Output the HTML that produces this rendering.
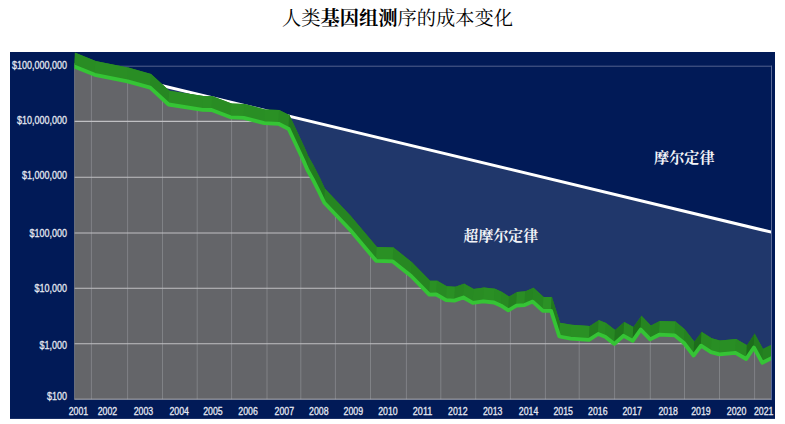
<!DOCTYPE html>
<html lang="zh"><head><meta charset="utf-8"><title>chart</title>
<style>html,body{margin:0;padding:0;background:#fff;font-family:"Liberation Sans",sans-serif}svg{display:block}</style>
</head><body>
<svg width="785" height="424" viewBox="0 0 785 424">
<defs><clipPath id="g"><polygon points="74.3,66.5 94.8,74.8 127.5,81.4 150.2,87.7 168.6,104.5 202.7,109.8 211.6,110.0 230.6,117.3 243.8,117.9 264.2,123.2 278.5,123.8 288.7,129.0 303.2,160.0 307.6,170.2 312.7,179.1 319.1,191.8 324.3,202.7 350.0,229.8 376.1,260.8 392.8,261.4 411.1,276.0 429.3,294.6 436.3,294.5 446.1,300.1 454.3,300.6 463.4,297.5 472.8,302.8 483.2,301.4 494.0,302.5 501.1,305.7 508.3,310.4 516.4,305.7 524.6,305.1 532.7,301.6 542.9,310.8 551.1,310.8 559.3,336.5 570.6,338.6 589.0,339.8 598.1,334.0 605.2,336.8 614.4,343.9 623.6,335.8 632.7,340.9 640.7,329.6 650.1,339.4 659.2,334.7 674.7,335.4 684.0,343.0 693.6,355.6 701.0,345.7 711.0,352.1 719.4,354.4 735.5,352.9 746.2,359.0 753.9,347.5 762.3,362.8 772.0,358.0 772.0,399.5 74.3,399.5"/></clipPath>
<clipPath id="p"><rect x="74.3" y="52.0" width="696.7" height="347.5"/></clipPath></defs>
<rect width="785" height="424" fill="#fff"/>
<rect x="10" y="52" width="765" height="366.9" fill="#011a57"/>
<line x1="74.3" y1="66.2" x2="772.0" y2="66.2" stroke="#53628f" stroke-width="1"/>
<polygon points="74.3,64.5 772.0,232.3 772.0,399.5 74.3,399.5" fill="#20376b"/>
<polygon points="74.3,66.5 94.8,74.8 127.5,81.4 150.2,87.7 168.6,104.5 202.7,109.8 211.6,110.0 230.6,117.3 243.8,117.9 264.2,123.2 278.5,123.8 288.7,129.0 303.2,160.0 307.6,170.2 312.7,179.1 319.1,191.8 324.3,202.7 350.0,229.8 376.1,260.8 392.8,261.4 411.1,276.0 429.3,294.6 436.3,294.5 446.1,300.1 454.3,300.6 463.4,297.5 472.8,302.8 483.2,301.4 494.0,302.5 501.1,305.7 508.3,310.4 516.4,305.7 524.6,305.1 532.7,301.6 542.9,310.8 551.1,310.8 559.3,336.5 570.6,338.6 589.0,339.8 598.1,334.0 605.2,336.8 614.4,343.9 623.6,335.8 632.7,340.9 640.7,329.6 650.1,339.4 659.2,334.7 674.7,335.4 684.0,343.0 693.6,355.6 701.0,345.7 711.0,352.1 719.4,354.4 735.5,352.9 746.2,359.0 753.9,347.5 762.3,362.8 772.0,358.0 772.0,399.5 74.3,399.5" fill="#646569"/>
<g clip-path="url(#g)">
<line x1="91.4" y1="66.2" x2="91.4" y2="399.5" stroke="#94959a" stroke-width="0.6"/>
<line x1="127.6" y1="66.2" x2="127.6" y2="399.5" stroke="#94959a" stroke-width="0.6"/>
<line x1="162.5" y1="66.2" x2="162.5" y2="399.5" stroke="#94959a" stroke-width="0.6"/>
<line x1="197.2" y1="66.2" x2="197.2" y2="399.5" stroke="#94959a" stroke-width="0.6"/>
<line x1="231.6" y1="66.2" x2="231.6" y2="399.5" stroke="#94959a" stroke-width="0.6"/>
<line x1="267.0" y1="66.2" x2="267.0" y2="399.5" stroke="#94959a" stroke-width="0.6"/>
<line x1="300.8" y1="66.2" x2="300.8" y2="399.5" stroke="#94959a" stroke-width="0.6"/>
<line x1="335.4" y1="66.2" x2="335.4" y2="399.5" stroke="#94959a" stroke-width="0.6"/>
<line x1="370.5" y1="66.2" x2="370.5" y2="399.5" stroke="#94959a" stroke-width="0.6"/>
<line x1="406.4" y1="66.2" x2="406.4" y2="399.5" stroke="#94959a" stroke-width="0.6"/>
<line x1="440.8" y1="66.2" x2="440.8" y2="399.5" stroke="#94959a" stroke-width="0.6"/>
<line x1="475.7" y1="66.2" x2="475.7" y2="399.5" stroke="#94959a" stroke-width="0.6"/>
<line x1="510.4" y1="66.2" x2="510.4" y2="399.5" stroke="#94959a" stroke-width="0.6"/>
<line x1="545.4" y1="66.2" x2="545.4" y2="399.5" stroke="#94959a" stroke-width="0.6"/>
<line x1="579.2" y1="66.2" x2="579.2" y2="399.5" stroke="#94959a" stroke-width="0.6"/>
<line x1="614.6" y1="66.2" x2="614.6" y2="399.5" stroke="#94959a" stroke-width="0.6"/>
<line x1="650.3" y1="66.2" x2="650.3" y2="399.5" stroke="#94959a" stroke-width="0.6"/>
<line x1="684.5" y1="66.2" x2="684.5" y2="399.5" stroke="#94959a" stroke-width="0.6"/>
<line x1="719.5" y1="66.2" x2="719.5" y2="399.5" stroke="#94959a" stroke-width="0.6"/>
<line x1="754.6" y1="66.2" x2="754.6" y2="399.5" stroke="#94959a" stroke-width="0.6"/>
<line x1="74.3" y1="66.2" x2="772.0" y2="66.2" stroke="#c0c0c3" stroke-width="1.1"/>
<line x1="74.3" y1="121.4" x2="772.0" y2="121.4" stroke="#c0c0c3" stroke-width="1.1"/>
<line x1="74.3" y1="177.2" x2="772.0" y2="177.2" stroke="#c0c0c3" stroke-width="1.1"/>
<line x1="74.3" y1="233.0" x2="772.0" y2="233.0" stroke="#c0c0c3" stroke-width="1.1"/>
<line x1="74.3" y1="288.3" x2="772.0" y2="288.3" stroke="#c0c0c3" stroke-width="1.1"/>
<line x1="74.3" y1="343.8" x2="772.0" y2="343.8" stroke="#c0c0c3" stroke-width="1.1"/>
<line x1="74.3" y1="399.4" x2="772.0" y2="399.4" stroke="#c0c0c3" stroke-width="1.1"/>
</g>
<line x1="74.3" y1="64.5" x2="772.0" y2="232.3" stroke="#fff" stroke-width="3.0" clip-path="url(#p)"/>
<g clip-path="url(#p)">
<polygon points="74.3,66.5 94.8,74.8 127.5,81.4 150.2,87.7 168.6,104.5 202.7,109.8 211.6,110.0 230.6,117.3 243.8,117.9 264.2,123.2 278.5,123.8 288.7,129.0 303.2,160.0 307.6,170.2 312.7,179.1 319.1,191.8 324.3,202.7 350.0,229.8 376.1,260.8 392.8,261.4 411.1,276.0 429.3,294.6 436.3,294.5 446.1,300.1 454.3,300.6 463.4,297.5 472.8,302.8 483.2,301.4 494.0,302.5 501.1,305.7 508.3,310.4 516.4,305.7 524.6,305.1 532.7,301.6 542.9,310.8 551.1,310.8 559.3,336.5 570.6,338.6 589.0,339.8 598.1,334.0 605.2,336.8 614.4,343.9 623.6,335.8 632.7,340.9 640.7,329.6 650.1,339.4 659.2,334.7 674.7,335.4 684.0,343.0 693.6,355.6 701.0,345.7 711.0,352.1 719.4,354.4 735.5,352.9 746.2,359.0 753.9,347.5 762.3,362.8 772.0,358.0 772.8,344.2 763.1,349.0 754.7,333.7 747.0,345.2 736.3,339.1 720.2,340.6 711.8,338.3 701.8,331.9 694.4,341.8 684.8,329.2 675.5,321.6 660.0,320.9 650.9,325.6 641.5,315.8 633.5,327.1 624.4,322.0 615.2,330.1 606.0,323.0 598.9,320.2 589.8,326.0 571.4,324.8 560.1,322.7 551.9,297.0 543.7,297.0 533.5,287.8 525.4,291.3 517.2,291.9 509.1,296.6 501.9,291.9 494.8,288.7 484.0,287.6 473.6,289.0 464.2,283.7 455.1,286.8 446.9,286.3 437.1,280.7 430.1,280.8 411.9,262.2 393.6,247.6 376.9,247.0 350.8,216.0 325.1,188.9 319.9,178.0 313.5,165.3 308.4,156.4 304.0,146.2 289.5,115.2 279.3,110.0 265.0,109.4 244.6,104.1 231.4,103.5 212.4,96.2 203.5,96.0 169.4,90.7 151.0,73.9 128.3,67.6 95.6,61.0 75.1,52.7" fill="#288a22"/>
<polygon points="74.0,66.4 95.0,74.9 95.8,61.1 74.8,52.6" fill="#298c23"/>
<polygon points="94.5,74.7 127.8,81.5 128.6,67.7 95.3,60.9" fill="#2a8e24"/>
<polygon points="127.2,81.3 150.4,87.8 151.2,74.0 128.1,67.5" fill="#298d24"/>
<polygon points="149.9,87.5 168.8,104.7 169.7,90.9 150.8,73.7" fill="#268722"/>
<polygon points="168.3,104.5 202.9,109.8 203.8,96.0 169.2,90.7" fill="#2a8f24"/>
<polygon points="202.4,109.8 211.8,110.0 212.7,96.2 203.2,96.0" fill="#2a9024"/>
<polygon points="211.3,109.9 230.8,117.4 231.7,103.6 212.2,96.1" fill="#298c23"/>
<polygon points="230.3,117.3 244.1,117.9 244.9,104.1 231.2,103.5" fill="#2a9024"/>
<polygon points="243.6,117.8 264.4,123.3 265.2,109.5 244.4,104.0" fill="#298e24"/>
<polygon points="263.9,123.2 278.8,123.8 279.6,110.0 264.8,109.4" fill="#2a9024"/>
<polygon points="278.2,123.7 288.9,129.1 289.8,115.3 279.1,109.9" fill="#288b23"/>
<polygon points="288.4,128.5 303.4,160.5 304.2,146.7 289.2,114.7" fill="#21791e"/>
<polygon points="302.9,159.4 307.9,170.8 308.7,157.0 303.8,145.6" fill="#21791e"/>
<polygon points="307.4,169.8 312.9,179.5 313.8,165.7 308.2,156.0" fill="#237d1f"/>
<polygon points="312.4,178.6 319.4,192.3 320.2,178.5 313.2,164.8" fill="#217b1e"/>
<polygon points="318.9,191.3 324.6,203.2 325.4,189.4 319.7,177.5" fill="#217a1e"/>
<polygon points="324.1,202.4 350.2,230.1 351.1,216.3 324.9,188.6" fill="#268521"/>
<polygon points="349.8,229.5 376.4,261.1 377.2,247.3 350.6,215.7" fill="#258421"/>
<polygon points="375.9,260.8 393.1,261.4 393.9,247.6 376.7,247.0" fill="#2a9024"/>
<polygon points="392.6,261.2 411.4,276.2 412.2,262.4 393.4,247.4" fill="#278822"/>
<polygon points="410.9,275.7 429.6,294.9 430.4,281.1 411.7,261.9" fill="#268521"/>
<polygon points="429.1,294.6 436.6,294.5 437.4,280.7 429.9,280.8" fill="#2a9024"/>
<polygon points="436.1,294.4 446.4,300.2 447.2,286.4 436.9,280.6" fill="#288a23"/>
<polygon points="445.9,300.1 454.6,300.6 455.4,286.8 446.7,286.3" fill="#2a9024"/>
<polygon points="454.1,300.7 463.6,297.4 464.4,283.6 454.9,286.9" fill="#278622"/>
<polygon points="463.1,297.4 473.1,302.9 473.9,289.1 463.9,283.6" fill="#288a23"/>
<polygon points="472.6,302.8 483.4,301.4 484.2,287.6 473.4,289.0" fill="#298c23"/>
<polygon points="482.9,301.4 494.2,302.5 495.1,288.7 483.8,287.6" fill="#2a8f24"/>
<polygon points="493.8,302.4 501.4,305.8 502.2,292.0 494.6,288.6" fill="#288c23"/>
<polygon points="500.9,305.5 508.6,310.6 509.4,296.8 501.7,291.7" fill="#288922"/>
<polygon points="508.1,310.5 516.6,305.6 517.4,291.8 508.9,296.7" fill="#247f20"/>
<polygon points="516.1,305.7 524.9,305.1 525.6,291.3 516.9,291.9" fill="#2a8e24"/>
<polygon points="524.4,305.2 533.0,301.5 533.8,287.7 525.1,291.4" fill="#258421"/>
<polygon points="532.5,301.4 543.1,311.0 543.9,297.2 533.2,287.6" fill="#268722"/>
<polygon points="542.6,310.8 551.4,310.8 552.1,297.0 543.4,297.0" fill="#2b9125"/>
<polygon points="550.9,310.0 559.5,337.3 560.3,323.5 551.6,296.2" fill="#21791e"/>
<polygon points="559.0,336.5 570.9,338.6 571.6,324.8 559.8,322.7" fill="#2a8e24"/>
<polygon points="570.4,338.6 589.2,339.8 590.0,326.0 571.1,324.8" fill="#2a9024"/>
<polygon points="588.8,340.0 598.4,333.8 599.1,320.0 589.5,326.2" fill="#237d1f"/>
<polygon points="597.9,333.9 605.5,336.9 606.2,323.1 598.6,320.1" fill="#298c23"/>
<polygon points="605.0,336.6 614.6,344.1 615.4,330.3 605.8,322.8" fill="#278822"/>
<polygon points="614.1,344.1 623.9,335.6 624.6,321.8 614.9,330.3" fill="#20761d"/>
<polygon points="623.4,335.7 633.0,341.0 633.8,327.2 624.1,321.9" fill="#288a23"/>
<polygon points="632.5,341.3 641.0,329.2 641.8,315.4 633.2,327.5" fill="#1d6d1b"/>
<polygon points="640.5,329.3 650.4,339.7 651.1,325.9 641.2,315.5" fill="#268521"/>
<polygon points="649.9,339.5 659.5,334.6 660.2,320.8 650.6,325.7" fill="#248120"/>
<polygon points="659.0,334.7 675.0,335.4 675.8,321.6 659.8,320.9" fill="#2a9024"/>
<polygon points="674.5,335.2 684.2,343.2 685.0,329.4 675.2,321.4" fill="#278822"/>
<polygon points="683.8,342.7 693.9,355.9 694.6,342.1 684.5,328.9" fill="#258220"/>
<polygon points="693.4,355.9 701.2,345.4 702.0,331.6 694.1,342.1" fill="#1d6d1b"/>
<polygon points="700.8,345.5 711.2,352.3 712.0,338.5 701.5,331.7" fill="#288a22"/>
<polygon points="710.8,352.0 719.6,354.5 720.4,340.7 711.5,338.2" fill="#298e24"/>
<polygon points="719.1,354.4 735.8,352.9 736.5,339.1 719.9,340.6" fill="#298e24"/>
<polygon points="735.2,352.8 746.5,359.1 747.2,345.3 736.0,339.0" fill="#288a23"/>
<polygon points="746.0,359.4 754.1,347.1 754.9,333.3 746.8,345.6" fill="#1d6d1b"/>
<polygon points="753.6,347.0 762.5,363.3 763.3,349.5 754.4,333.2" fill="#227d1f"/>
<polygon points="762.0,362.9 772.2,357.9 773.0,344.1 762.8,349.1" fill="#258220"/>
<polyline points="74.3,66.5 94.8,74.8 127.5,81.4 150.2,87.7 168.6,104.5 202.7,109.8 211.6,110.0 230.6,117.3 243.8,117.9 264.2,123.2 278.5,123.8 288.7,129.0 303.2,160.0 307.6,170.2 312.7,179.1 319.1,191.8 324.3,202.7 350.0,229.8 376.1,260.8 392.8,261.4 411.1,276.0 429.3,294.6 436.3,294.5 446.1,300.1 454.3,300.6 463.4,297.5 472.8,302.8 483.2,301.4 494.0,302.5 501.1,305.7 508.3,310.4 516.4,305.7 524.6,305.1 532.7,301.6 542.9,310.8 551.1,310.8 559.3,336.5 570.6,338.6 589.0,339.8 598.1,334.0 605.2,336.8 614.4,343.9 623.6,335.8 632.7,340.9 640.7,329.6 650.1,339.4 659.2,334.7 674.7,335.4 684.0,343.0 693.6,355.6 701.0,345.7 711.0,352.1 719.4,354.4 735.5,352.9 746.2,359.0 753.9,347.5 762.3,362.8 772.0,358.0" fill="none" stroke="#35c435" stroke-width="3.8" stroke-linejoin="round"/>
</g>
<rect x="771.0" y="66.2" width="1.4" height="333.9" fill="#011a57"/>
<line x1="771.5" y1="65.7" x2="771.5" y2="400.1" stroke="#5b6a98" stroke-width="1"/>
<line x1="74.6" y1="68.5" x2="74.6" y2="399.5" stroke="#8e8f96" stroke-width="0.8" stroke-opacity="0.6"/>
<g font-family="'Liberation Sans', sans-serif" fill="#e6e9f2" stroke="#e6e9f2" stroke-width="0.28">
<text x="12.1" y="69.10" font-size="10.8" textLength="55.0" lengthAdjust="spacingAndGlyphs">$100,000,000</text>
<text x="17.1" y="123.75" font-size="10.8" textLength="50.0" lengthAdjust="spacingAndGlyphs">$10,000,000</text>
<text x="22.1" y="179.30" font-size="10.8" textLength="45.0" lengthAdjust="spacingAndGlyphs">$1,000,000</text>
<text x="29.6" y="236.85" font-size="10.8" textLength="37.5" lengthAdjust="spacingAndGlyphs">$100,000</text>
<text x="34.6" y="291.60" font-size="10.8" textLength="32.5" lengthAdjust="spacingAndGlyphs">$10,000</text>
<text x="39.6" y="348.50" font-size="10.8" textLength="27.5" lengthAdjust="spacingAndGlyphs">$1,000</text>
<text x="47.1" y="400.40" font-size="10.8" textLength="20.0" lengthAdjust="spacingAndGlyphs">$100</text>
<text x="68.7" y="414.6" font-size="10.2" textLength="19.5" lengthAdjust="spacingAndGlyphs">2001</text>
<text x="97.7" y="414.6" font-size="10.2" textLength="19.5" lengthAdjust="spacingAndGlyphs">2002</text>
<text x="133.7" y="414.6" font-size="10.2" textLength="19.5" lengthAdjust="spacingAndGlyphs">2003</text>
<text x="169.4" y="414.6" font-size="10.2" textLength="19.5" lengthAdjust="spacingAndGlyphs">2004</text>
<text x="203.2" y="414.6" font-size="10.2" textLength="19.5" lengthAdjust="spacingAndGlyphs">2005</text>
<text x="238.3" y="414.6" font-size="10.2" textLength="19.5" lengthAdjust="spacingAndGlyphs">2006</text>
<text x="274.6" y="414.6" font-size="10.2" textLength="19.5" lengthAdjust="spacingAndGlyphs">2007</text>
<text x="309.1" y="414.6" font-size="10.2" textLength="19.5" lengthAdjust="spacingAndGlyphs">2008</text>
<text x="343.6" y="414.6" font-size="10.2" textLength="19.5" lengthAdjust="spacingAndGlyphs">2009</text>
<text x="378.2" y="414.6" font-size="10.2" textLength="19.5" lengthAdjust="spacingAndGlyphs">2010</text>
<text x="412.8" y="414.6" font-size="10.2" textLength="19.5" lengthAdjust="spacingAndGlyphs">2011</text>
<text x="448.1" y="414.6" font-size="10.2" textLength="19.5" lengthAdjust="spacingAndGlyphs">2012</text>
<text x="482.9" y="414.6" font-size="10.2" textLength="19.5" lengthAdjust="spacingAndGlyphs">2013</text>
<text x="518.8" y="414.6" font-size="10.2" textLength="19.5" lengthAdjust="spacingAndGlyphs">2014</text>
<text x="553.4" y="414.6" font-size="10.2" textLength="19.5" lengthAdjust="spacingAndGlyphs">2015</text>
<text x="588.1" y="414.6" font-size="10.2" textLength="19.5" lengthAdjust="spacingAndGlyphs">2016</text>
<text x="622.5" y="414.6" font-size="10.2" textLength="19.5" lengthAdjust="spacingAndGlyphs">2017</text>
<text x="658.5" y="414.6" font-size="10.2" textLength="19.5" lengthAdjust="spacingAndGlyphs">2018</text>
<text x="691.2" y="414.6" font-size="10.2" textLength="19.5" lengthAdjust="spacingAndGlyphs">2019</text>
<text x="726.8" y="414.6" font-size="10.2" textLength="19.5" lengthAdjust="spacingAndGlyphs">2020</text>
<text x="754.0" y="414.6" font-size="10.2" textLength="19.5" lengthAdjust="spacingAndGlyphs">2021</text>
</g>
<text x="282" y="24.6" font-size="19.3" fill="#000" font-family="'Liberation Serif', 'Noto Serif CJK SC', serif" textLength="231" lengthAdjust="spacingAndGlyphs">人类<tspan font-weight="bold">基因组测</tspan>序的成本变化</text>
<text x="654" y="162.7" font-size="15.2" font-weight="bold" fill="#f2f3f7" font-family="'Liberation Serif', 'Noto Serif CJK SC', serif" textLength="60.6" lengthAdjust="spacingAndGlyphs">摩尔定律</text>
<text x="463.6" y="240.5" font-size="15" font-weight="bold" fill="#f2f3f7" font-family="'Liberation Serif', 'Noto Serif CJK SC', serif" textLength="74.6" lengthAdjust="spacingAndGlyphs">超摩尔定律</text>
</svg>
</body></html>
